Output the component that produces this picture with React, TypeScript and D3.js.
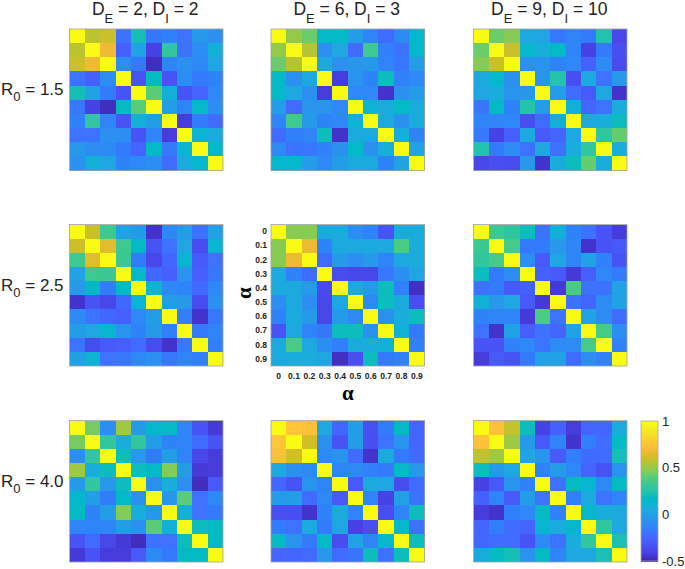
import React, { useEffect, useRef } from 'react';
import * as d3 from 'd3';

// upper triangles of the correlation matrices, row by row (diagonal first)
const panelA: number[][] = [
  [1, .57, .6, -.2, .22, -.18, -.14, -.2, -.03, -.07],
  [1, .69, -.27, .02, -.4, .3, -.2, -.08, .1],
  [1, -.08, -.17, -.47, -.12, -.07, -.1, .03],
  [1, -.33, .18, -.33, -.08, -.17, -.13],
  [1, .4, .1, -.33, -.25, -.11],
  [1, 0, -.12, .17, -.08],
  [1, -.42, -.17, -.23],
  [1, .12, .07],
  [1, .15],
  [1],
];
const panelB: number[][] = [
  [1, .5, .43, .17, .17, -.01, -.12, -.22, -.1, .15],
  [1, .56, -.07, .05, -.23, .34, -.14, -.2, .15],
  [1, .05, -.07, -.04, -.02, -.12, -.18, -.01],
  [1, -.42, -.05, -.13, .2, -.14, -.11],
  [1, -.11, -.11, -.45, -.06, 0],
  [1, .12, .07, .17, .07],
  [1, .06, -.06, .07],
  [1, .08, -.13],
  [1, .02],
  [1],
];
const panelC: number[][] = [
  [1, .43, .48, .05, .04, -.18, -.12, -.17, .25, -.38],
  [1, .6, .15, .08, .17, -.12, -.4, -.17, -.35],
  [1, -.06, -.05, -.13, -.11, -.27, -.09, -.36],
  [1, -.04, .26, -.35, .05, -.2, -.03],
  [1, 0, -.22, -.3, .05, -.45],
  [1, .1, -.25, -.2, .08],
  [1, .05, .08, .2],
  [1, .3, .42],
  [1, .08],
  [1],
];
const panelD: number[][] = [
  [1, .6, .34, .02, -.02, -.45, -.1, 0, -.2, .01],
  [1, .65, .34, .17, -.33, -.2, .03, -.36, .12],
  [1, .33, -.16, -.38, -.24, .13, -.3, -.2],
  [1, .16, -.24, -.27, -.05, -.28, -.18],
  [1, .12, -.11, -.13, -.23, -.11],
  [1, 0, -.02, -.36, -.07],
  [1, -.15, -.45, -.18],
  [1, -.17, -.12],
  [1, -.15],
  [1],
];
const panelE: number[][] = [
  [1, .48, .48, .06, .06, -.08, -.13, -.33, .07, .07],
  [1, .68, -.13, .06, .05, .06, .05, .37, .08],
  [1, -.22, -.02, -.08, -.02, -.12, .05, .08],
  [1, -.36, -.38, -.38, -.18, -.08, .04],
  [1, .05, -.02, .2, -.15, -.46],
  [1, -.1, .2, .07, -.35],
  [1, -.06, .08, .2],
  [1, .1, -.17],
  [1, -.14],
  [1],
];
const panelF: number[][] = [
  [1, .33, .3, .2, -.2, .1, -.13, -.2, -.33, -.42],
  [1, .36, -.17, -.16, -.03, -.12, -.45, -.33, -.3],
  [1, -.08, -.3, .04, -.12, .02, -.14, -.33],
  [1, -.27, -.3, -.43, -.28, -.11, -.17],
  [1, -.43, .37, -.2, -.2, .02],
  [1, -.2, -.25, -.09, .02],
  [1, .02, -.09, -.22],
  [1, .36, -.08],
  [1, -.14],
  [1],
];
const panelG: number[][] = [
  [1, .45, -.08, .52, -.02, .15, .18, -.12, -.33, -.43],
  [1, .3, .08, .3, 0, -.13, -.12, -.22, -.33],
  [1, .2, -.03, -.16, 0, -.12, -.38, -.42],
  [1, .2, .17, .47, 0, -.43, -.42],
  [1, -.06, .08, -.07, -.47, -.3],
  [1, -.04, .4, -.2, -.1],
  [1, .1, -.2, -.17],
  [1, .2, .18],
  [1, .18],
  [1],
];
const panelH: number[][] = [
  [1, .77, .74, .05, -.24, -.01, -.34, -.16, .18, -.25],
  [1, .62, -.06, -.33, 0, -.35, -.2, -.05, -.25],
  [1, -.1, -.05, -.22, -.45, .06, -.17, -.23],
  [1, -.12, -.1, -.14, -.17, .17, -.03],
  [1, -.3, .07, .04, -.36, -.22],
  [1, -.12, -.4, .02, -.19],
  [1, -.35, -.12, .2],
  [1, .15, -.2],
  [1, .2],
  [1],
];
const panelI: number[][] = [
  [1, .75, .58, .2, -.4, -.27, -.42, -.25, -.24, .07],
  [1, .52, -.02, -.3, -.12, -.45, -.15, -.22, .18],
  [1, .04, -.05, -.3, -.15, -.22, -.22, .22],
  [1, -.14, 0, -.11, -.26, -.33, -.05],
  [1, -.2, .18, .13, -.1, .18],
  [1, -.14, .06, -.2, -.12],
  [1, .15, .08, .05],
  [1, .3, .05],
  [1, .23],
  [1],
];

const alphas = ['0', '0.1', '0.2', '0.3', '0.4', '0.5', '0.6', '0.7', '0.8', '0.9'];
const colTitles = [['2', '2'], ['6', '3'], ['9', '10']];
const rowTitles = ['1.5', '2.5', '4.0'];
const colorTicks = [1, 0.5, 0, -0.5];

// parula, sampled every few entries
const parula = [
  [.2422, .1504, .6603], [.2647, .1978, .7952], [.2783, .2559, .8991], [.2813, .3006, .9414],
  [.2795, .3447, .9717], [.2699, .3892, .9906], [.2440, .4358, .9988], [.1963, .4847, .9892],
  [.1786, .5289, .9682], [.1687, .5703, .9359], [.1460, .6091, .9079], [.1248, .6459, .8883],
  [.0952, .6798, .8598], [.0297, .7082, .8163], [.0067, .7312, .7660], [.0964, .7500, .7120],
  [.1717, .7670, .6554], [.2161, .7843, .5923], [.2906, .7973, .5188], [.3909, .8029, .4354],
  [.5044, .7993, .3480], [.6174, .7876, .2612], [.7242, .7698, .1910], [.8203, .7498, .1535],
  [.9035, .7330, .1774], [.9728, .7298, .2394], [.9970, .7659, .2199], [.9892, .8136, .1885],
  [.9676, .8639, .1643], [.9597, .9135, .1423], [.9691, .9606, .1064], [.9769, .9839, .0805],
].map(([r, g, b]) => d3.rgb(r * 255, g * 255, b * 255).formatHex());

const color = d3.scaleLinear<string>()
  .domain(parula.map((_, i) => -0.5 + (1.5 * i) / (parula.length - 1)))
  .range(parula)
  .clamp(true);

const font = '"Liberation Sans", Arial, sans-serif';

export default function App() {
  const svgRef = useRef<SVGSVGElement>(null);

  useEffect(() => {
    if (!svgRef.current) return;
    const svg = d3.select(svgRef.current);
    svg.selectAll('*').remove();

    const xLefts = [69.5, 271, 473.5];
    const yTops = [29, 224.5, 420.5];
    const panelW = 153.5;
    const panelHt = 141.5;
    const matrices = [panelA, panelB, panelC, panelD, panelE, panelF, panelG, panelH, panelI];

    matrices.forEach((m, k) => {
      const col = k % 3;
      const row = Math.floor(k / 3);
      const x = d3.scaleBand<number>().domain(d3.range(10)).range([0, panelW]);
      const y = d3.scaleBand<number>().domain(d3.range(10)).range([0, panelHt]);
      const g = svg.append('g').attr('transform', `translate(${xLefts[col]},${yTops[row]})`);

      const cells: { i: number; j: number; v: number }[] = [];
      m.forEach((r, i) => r.forEach((v, d) => {
        cells.push({ i, j: i + d, v });
        if (d > 0) cells.push({ i: i + d, j: i, v });
      }));

      g.selectAll('rect.cell')
        .data(cells)
        .join('rect')
        .attr('class', 'cell')
        .attr('x', d => x(d.j)!)
        .attr('y', d => y(d.i)!)
        .attr('width', x.bandwidth())
        .attr('height', y.bandwidth())
        .attr('shape-rendering', 'crispEdges')
        .attr('fill', d => color(d.v));

      g.append('rect')
        .attr('width', panelW)
        .attr('height', panelHt)
        .attr('fill', 'none')
        .attr('stroke', '#a0a0a0')
        .attr('stroke-width', 0.8);

      // only the centre panel carries axes
      if (k === 4) {
        const bx = d3.scaleBand<string>().domain(alphas).range([0, panelW]);
        const by = d3.scaleBand<string>().domain(alphas).range([0, panelHt]);
        const xAxis = g.append('g').attr('transform', `translate(0,${panelHt})`)
          .call(d3.axisBottom(bx).tickSize(0).tickPadding(7));
        const yAxis = g.append('g').call(d3.axisLeft(by).tickSize(0).tickPadding(4));
        [xAxis, yAxis].forEach(a => {
          a.select('.domain').remove();
          a.selectAll('text')
            .attr('font-family', font)
            .attr('font-weight', 'bold')
            .attr('font-size', 8.5)
            .attr('fill', '#222');
        });
        g.append('text')
          .attr('x', panelW / 2)
          .attr('y', panelHt + 34)
          .attr('text-anchor', 'middle')
          .attr('font-family', '"Liberation Serif", serif')
          .attr('font-weight', 'bold')
          .attr('font-size', 21)
          .text('α');
        g.append('text')
          .attr('transform', `translate(-20,${panelHt / 2 - 2}) rotate(-90)`)
          .attr('text-anchor', 'middle')
          .attr('font-family', '"Liberation Serif", serif')
          .attr('font-weight', 'bold')
          .attr('font-size', 21)
          .text('α');
      }
    });

    // column titles
    colTitles.forEach(([e, i], c) => {
      const t = svg.append('text')
        .attr('x', xLefts[c] + panelW / 2 - 1)
        .attr('y', 15)
        .attr('text-anchor', 'middle')
        .attr('font-family', font)
        .attr('font-size', 17.5)
        .attr('fill', '#222');
      t.append('tspan').text('D');
      t.append('tspan').attr('dy', 8).attr('font-size', 13).text('E');
      t.append('tspan').attr('dy', -8).text(` = ${e}, D`);
      t.append('tspan').attr('dy', 8).attr('font-size', 13).text('I');
      t.append('tspan').attr('dy', -8).text(` = ${i}`);
    });

    // row titles
    rowTitles.forEach((r, i) => {
      const t = svg.append('text')
        .attr('x', 1)
        .attr('y', yTops[i] + 66)
        .attr('font-family', font)
        .attr('font-size', 17)
        .attr('fill', '#222');
      t.append('tspan').text('R');
      t.append('tspan').attr('dy', 6).attr('font-size', 13).text('0');
      t.append('tspan').attr('dy', -6).text(` = ${r}`);
    });

    // colorbar
    const cbLeft = 641;
    const cbWidth = 17;
    const cbY = d3.scaleLinear().domain([-0.5, 1]).range([561, 421]);
    const levels = d3.range(64).map(i => -0.5 + (1.5 * i) / 64);
    const cb = svg.append('g');
    cb.selectAll('rect')
      .data(levels)
      .join('rect')
      .attr('x', cbLeft)
      .attr('y', d => cbY(d + 1.5 / 64))
      .attr('width', cbWidth)
      .attr('height', (cbY(-0.5) - cbY(1)) / 64 + 0.5)
      .attr('shape-rendering', 'crispEdges')
      .attr('fill', d => color(d + 0.75 / 64));
    cb.append('rect')
      .attr('x', cbLeft)
      .attr('y', cbY(1))
      .attr('width', cbWidth)
      .attr('height', cbY(-0.5) - cbY(1))
      .attr('fill', 'none')
      .attr('stroke', '#a8a8a8')
      .attr('stroke-width', 0.8);
    const axis = cb.append('g')
      .attr('transform', `translate(${cbLeft + cbWidth},0)`)
      .call(d3.axisRight(cbY).tickValues(colorTicks).tickSize(0).tickPadding(4).tickFormat(d => String(d)));
    axis.select('.domain').remove();
    axis.selectAll('text')
      .attr('font-family', font)
      .attr('font-size', 13)
      .attr('fill', '#222');
  }, []);

  return (
    <svg
      ref={svgRef}
      width={685}
      height={569}
      style={{ position: 'absolute', left: 0, top: 0, background: '#fff' }}
    />
  );
}
